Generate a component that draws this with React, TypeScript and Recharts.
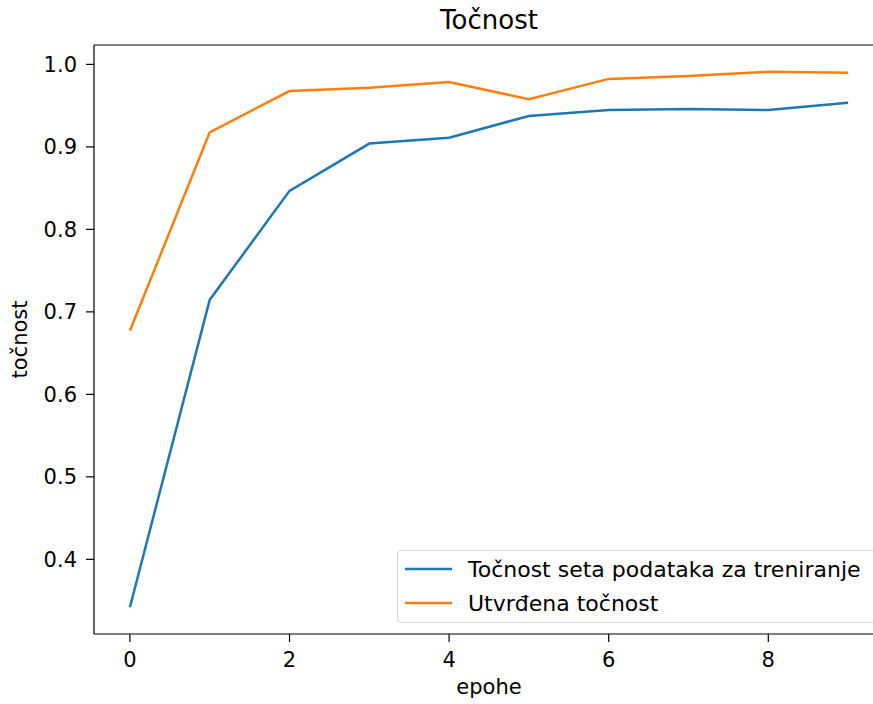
import React from 'react';
import { LineChart, Line, XAxis, YAxis, ReferenceLine } from 'recharts';

const epochs = [0, 1, 2, 3, 4, 5, 6, 7, 8, 9];
const trainAcc = [0.342, 0.7145, 0.8467, 0.904, 0.911, 0.9375, 0.9447, 0.9459, 0.9447, 0.9535];
const valAcc = [0.677, 0.9177, 0.9677, 0.9717, 0.9786, 0.9578, 0.9824, 0.986, 0.991, 0.990];
const xTicks = [0, 2, 4, 6, 8];
const yTicks = [0.4, 0.5, 0.6, 0.7, 0.8, 0.9, 1.0];
const seriesNames = ['Točnost seta podataka za treniranje', 'Utvrđena točnost'];
const seriesColors = ['#1f77b4', '#ff7f0e'];
const title = 'Točnost';
const xLabel = 'epohe';
const yLabel = 'točnost';

const xDomain: [number, number] = [-0.45, 9.45];
const yDomain: [number, number] = [0.3095, 1.0235];

const data = epochs.map((e, i) => ({ epoch: e, train: trainAcc[i], val: valAcc[i] }));

const FONT = '"DejaVu Sans", sans-serif';

const LegendBox = () => (
  <div
    style={{
      position: 'absolute',
      left: 397,
      top: 550,
      width: 500,
      height: 73,
      border: '1px solid #d6d6d6',
      borderRadius: 4,
      background: 'rgba(255,255,255,0.85)',
      padding: '1px 0 0 7px',
      fontFamily: FONT,
      fontSize: 22,
      color: '#000',
      boxSizing: 'border-box',
    }}
  >
    {seriesNames.map((name, i) => (
      <div key={i} style={{ display: 'flex', alignItems: 'center', height: 34, whiteSpace: 'nowrap' }}>
        <svg width={47} height={6} style={{ marginRight: 16, flexShrink: 0 }}>
          <line x1={0} y1={3} x2={47} y2={3} stroke={seriesColors[i]} strokeWidth={2.5} />
        </svg>
        <span>{name}</span>
      </div>
    ))}
  </div>
);

const YLabel = (props: any) => {
  const vb = props.viewBox || {};
  const cy = vb.y + vb.height / 2;
  return (
    <text
      x={27}
      y={cy}
      transform={`rotate(-90, 27, ${cy})`}
      textAnchor="middle"
      fontFamily={FONT}
      fontSize={21}
      fill="#000"
    >
      {yLabel}
    </text>
  );
};

export default function App() {
  return (
    <div style={{ position: 'absolute', left: 0, top: 0, width: 873, height: 704, overflow: 'hidden', background: '#fff' }}>
      <div
        style={{
          position: 'absolute',
          left: 94,
          width: 790,
          top: 5,
          textAlign: 'center',
          fontFamily: FONT,
          fontSize: 26,
          lineHeight: '30px',
          color: '#000',
        }}
      >
        {title}
      </div>
      <LineChart width={873} height={704} data={data} margin={{ top: 45, right: -11, bottom: 0, left: 0 }}>
        <XAxis
          dataKey="epoch"
          type="number"
          domain={xDomain}
          ticks={xTicks}
          allowDataOverflow
          height={70}
          tickSize={8}
          tickMargin={10}
          stroke="#000"
          strokeWidth={1.2}
          tick={{ fill: '#000', fontSize: 21, fontFamily: FONT }}
          tickLine={{ stroke: '#000', strokeWidth: 1.2 }}
          label={{ value: xLabel, position: 'insideBottom', offset: 10, fill: '#000', fontSize: 21, fontFamily: FONT }}
        />
        <YAxis
          type="number"
          domain={yDomain}
          ticks={yTicks}
          allowDataOverflow
          width={94}
          tickSize={8}
          tickMargin={9}
          stroke="#000"
          strokeWidth={1.2}
          tickFormatter={(v: number) => v.toFixed(1)}
          tick={{ fill: '#000', fontSize: 21, fontFamily: FONT }}
          tickLine={{ stroke: '#000', strokeWidth: 1.2 }}
          label={<YLabel />}
        />
        <ReferenceLine y={yDomain[1]} stroke="#000" strokeWidth={1.2} />
        <Line
          type="linear"
          dataKey="train"
          name={seriesNames[0]}
          stroke={seriesColors[0]}
          strokeWidth={2.5}
          dot={false}
          isAnimationActive={false}
        />
        <Line
          type="linear"
          dataKey="val"
          name={seriesNames[1]}
          stroke={seriesColors[1]}
          strokeWidth={2.5}
          dot={false}
          isAnimationActive={false}
        />
      </LineChart>
      <LegendBox />
    </div>
  );
}
